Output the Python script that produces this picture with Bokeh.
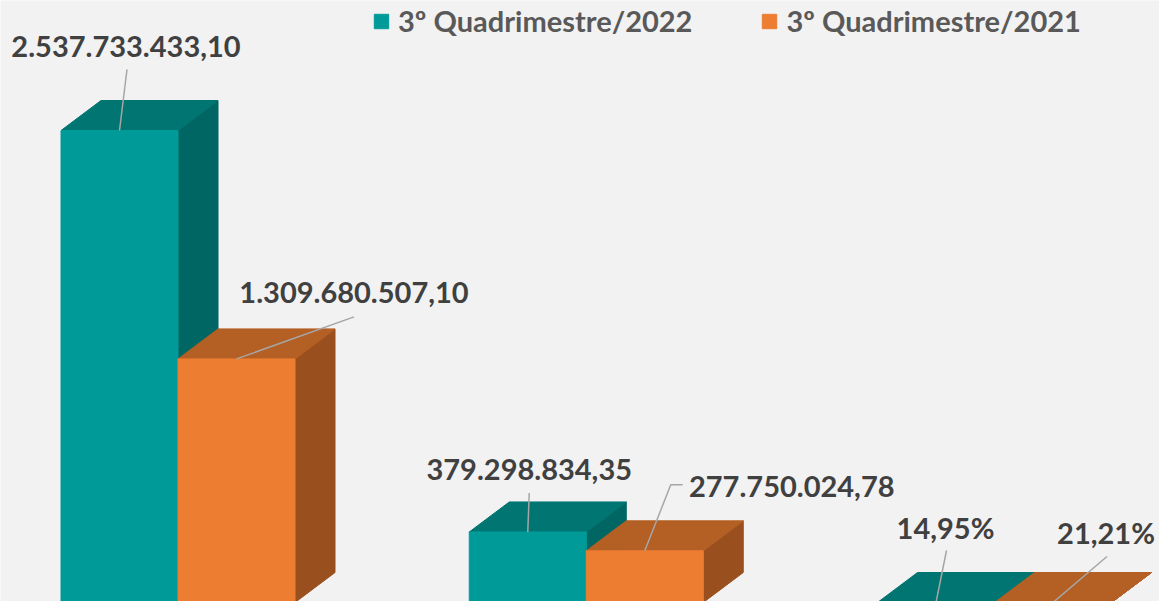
from bokeh.plotting import figure
from bokeh.models import Range1d, ColumnDataSource, Legend, LegendItem
from bokeh.core.properties import value
from bokeh.embed import file_html
from bokeh.resources import INLINE

# ---------------- data ----------------
series_names = ["3º Quadrimestre/2022", "3º Quadrimestre/2021"]
values_2022 = [2537733433.10, 379298834.35, 0.1495]
values_2021 = [1309680507.10, 277750024.78, 0.2121]
value_kinds = ["money", "money", "pct"]

# ---------------- layout / style ----------------
W, H = 1159, 601
GROUP_PX = 408.25        # distance between groups
FIRST_CENTER_PX = 177.5  # pixel of first group's centre
BAR_PX = 117             # front width of a bar
DEPTH_DX_PX = 40         # 3D depth offsets
DEPTH_DY_PX = 30
BASE_PX = 602            # pixel row of the zero line
MAXTOP_PX = 130          # pixel row of the tallest bar top

BG = "#F2F2F2"
front_cols = ["#009A98", "#ED7D31"]
top_cols = ["#007571", "#B45F23"]
side_cols = ["#006663", "#9A4F1E"]
LABEL_COLOR = "#404040"
LEADER_COLOR = "#A6A6A6"
FONT = "Lato"
FONT_SIZE = "29px"
LABEL_SHIFT = -11  # baseline correction

# label offsets in pixels from each bar's front-top centre: (dx, dy of baseline)
label_offsets = [
    [(6.5, -73), (1.5, -51), (9.5, -64)],
    [(117.5, -55), (147, -53), (53, -59)],
]
# leader polylines (pixel offsets from anchor)
leader_offsets = [
    [[(0, 0), (7.5, -61)], [(0, 0), (1.5, -39)], [(0, 0), (10.5, -52)]],
    [[(0, 0), (117.5, -42)], [(0, 0), (26, -66), (38, -66)], [(0, 0), (54, -46)]],
]

# ---------------- scales ----------------
x0 = -FIRST_CENTER_PX / GROUP_PX
x1 = x0 + W / GROUP_PX
xu = 1.0 / GROUP_PX                      # data units per x pixel
max_val = max(values_2022 + values_2021)
yu = max_val / (BASE_PX - MAXTOP_PX)     # data units per y pixel
y_end = BASE_PX * yu
y_start = (BASE_PX - H) * yu

bw = BAR_PX * xu
ddx = DEPTH_DX_PX * xu
ddy = DEPTH_DY_PX * yu


def fmt(v, kind):
    if kind == "pct":
        return f"{v * 100:.2f}%".replace(".", ",")
    s = f"{v:,.2f}"
    return s.replace(",", "X").replace(".", ",").replace("X", ".")


p = figure(width=W, height=H, x_range=Range1d(x0, x1), y_range=Range1d(y_start, y_end),
           output_backend="svg", toolbar_location=None,
           x_axis_location=None, y_axis_location=None,
           background_fill_color=BG, border_fill_color=BG, min_border=0)
p.grid.visible = False
p.outline_line_color = None

series = [values_2022, values_2021]
front_renderers = []
for s, vals in enumerate(series):
    lefts, rights, tops = [], [], []
    side_xs, side_ys, top_xs, top_ys = [], [], [], []
    for g, v in enumerate(vals):
        L = g - bw if s == 0 else g
        R = L + bw
        lefts.append(L); rights.append(R); tops.append(v)
        side_xs.append([R, R, R + ddx, R + ddx])
        side_ys.append([0, v, v + ddy, ddy])
        top_xs.append([L, R, R + ddx, L + ddx])
        top_ys.append([v, v, v + ddy, v + ddy])
    p.patches(side_xs, side_ys, fill_color=side_cols[s], line_color=side_cols[s], line_width=1)
    p.patches(top_xs, top_ys, fill_color=top_cols[s], line_color=top_cols[s], line_width=1)
    r = p.quad(left=lefts, right=rights, bottom=[0] * len(vals), top=tops,
               fill_color=front_cols[s], line_color=front_cols[s], line_width=1)
    front_renderers.append(r)

# leaders and labels
lx, ly, tx, ty, tt, txo, tyo = [], [], [], [], [], [], []
for s, vals in enumerate(series):
    for g, v in enumerate(vals):
        L = g - bw if s == 0 else g
        ax = L + bw / 2
        ay = v
        pts = leader_offsets[s][g]
        lx.append([ax + dx * xu for dx, dy in pts])
        ly.append([ay - dy * yu for dx, dy in pts])
        tx.append(ax); ty.append(ay)
        tt.append(fmt(v, value_kinds[g]))
        ox, oy = label_offsets[s][g]
        txo.append(ox); tyo.append(oy + LABEL_SHIFT)

p.multi_line(lx, ly, line_color=LEADER_COLOR, line_width=1.5)
src = ColumnDataSource(dict(x=tx, y=ty, text=tt, xo=txo, yo=tyo))
p.text(x="x", y="y", text="text", x_offset="xo", y_offset="yo", source=src,
       text_font=value(FONT), text_font_style="bold", text_font_size=FONT_SIZE,
       text_color=LABEL_COLOR, text_align="center", text_baseline="alphabetic")

legend = Legend(items=[LegendItem(label=series_names[i], renderers=[front_renderers[i]]) for i in range(2)],
                orientation="horizontal", location=(372, 563),
                label_text_font=FONT, label_text_font_style="bold", label_text_font_size=FONT_SIZE,
                label_text_color="#595959", label_standoff=8, spacing=68,
                glyph_width=18, glyph_height=18, padding=0, margin=0,
                background_fill_alpha=0, border_line_alpha=0)
p.add_layout(legend)

open("out.html", "w").write(file_html(p, INLINE))
